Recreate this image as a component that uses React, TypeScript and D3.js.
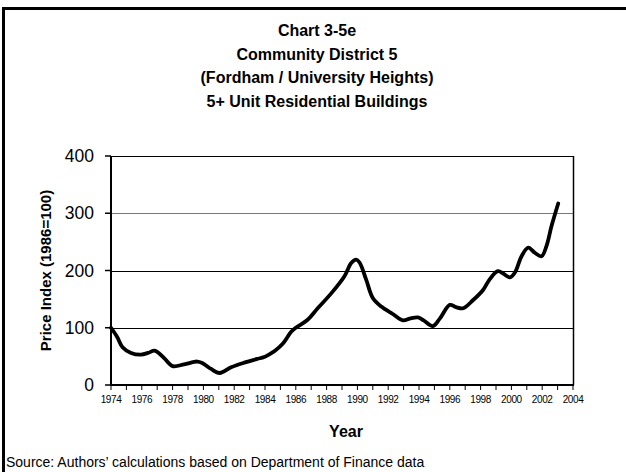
import React from "react";
import * as d3 from "d3";

const titleLines = [
  "Chart 3-5e",
  "Community District 5",
  "(Fordham / University Heights)",
  "5+ Unit Residential Buildings",
];

const years = [
  1974.0, 1974.4, 1974.75, 1975.3, 1975.95, 1976.4, 1976.8, 1977.0, 1977.45, 1978.0,
  1978.75, 1979.6, 1979.95, 1980.5, 1981.05, 1981.8, 1982.65, 1983.5, 1983.95, 1984.3,
  1984.65, 1985.15, 1985.7, 1986.0, 1986.77, 1987.42, 1988.3, 1989.16, 1989.6, 1989.92,
  1990.14, 1990.57, 1991.0, 1991.55, 1992.3, 1992.96, 1993.4, 1993.93, 1994.3, 1994.9,
  1995.35, 1996.0, 1996.4, 1996.86, 1997.5, 1998.16, 1998.6, 1999.13, 1999.9, 2000.22,
  2000.66, 2001.09, 2001.52, 2001.96, 2002.28, 2002.61, 2003.04,
];

const values = [
  100, 84, 66, 56, 53, 56, 60, 58, 47, 33,
  36, 41, 38, 28, 21, 31, 39, 45.5, 49, 54,
  60, 72, 93, 100, 114, 134, 160, 190, 213, 219,
  214, 184, 152, 137, 124, 113, 116, 118, 113, 103,
  116, 140, 136, 134, 148, 166, 185, 199, 188, 196,
  225, 240, 231, 225, 243, 278, 317,
];

const yTicks = [0, 100, 200, 300, 400];
const xLabelYears = [1974, 1976, 1978, 1980, 1982, 1984, 1986, 1988, 1990, 1992, 1994, 1996, 1998, 2000, 2002, 2004];
const xMinorYears = d3.range(1974, 2005);

const yLabel = "Price Index (1986=100)";
const xLabel = "Year";
const source = "Source: Authors\u2019 calculations based on Department of Finance data";

export default function App() {
  const W = 626;
  const H = 472;
  const left = 111;
  const right = 573;
  const top = 156;
  const bottom = 385;

  const x = d3.scaleLinear().domain([1974, 2004]).range([left, right]);
  const y = d3.scaleLinear().domain([0, 400]).range([bottom, top]);

  const pts: [number, number][] = years.map((yr, i) => [yr, values[i]]);
  const line = d3
    .line<[number, number]>()
    .x((d) => x(d[0]))
    .y((d) => y(d[1]))
    .curve(d3.curveCatmullRom.alpha(0.5));

  const font = "Arial, 'Liberation Sans', sans-serif";

  return (
    <svg
      width={W}
      height={H}
      style={{ position: "absolute", left: 0, top: 0, background: "#fff" }}
      fontFamily={font}
    >
      <rect x={0} y={0} width={W} height={H} fill="#fff" />
      {/* outer frame */}
      <line x1={3.5} y1={8.5} x2={W} y2={8.5} stroke="#000" strokeWidth={3} />
      <line x1={3.5} y1={7} x2={3.5} y2={H} stroke="#000" strokeWidth={3} />

      {/* title */}
      {titleLines.map((t, i) => (
        <text
          key={t}
          x={317}
          y={36 + i * 23.5}
          textAnchor="middle"
          fontSize={16}
          fontWeight="bold"
        >
          {t}
        </text>
      ))}

      {/* gridlines */}
      {yTicks
        .filter((v) => v > 0 && v < 400)
        .map((v) => (
          <line
            key={v}
            x1={left}
            x2={right}
            y1={Math.round(y(v)) + 0.5}
            y2={Math.round(y(v)) + 0.5}
            stroke={v === 300 ? "#777" : "#000"}
            strokeWidth={1}
          />
        ))}

      {/* plot frame top & right */}
      <line x1={left} x2={right} y1={top + 0.5} y2={top + 0.5} stroke="#000" strokeWidth={1} />
      <line x1={right + 0.5} x2={right + 0.5} y1={top} y2={bottom} stroke="#000" strokeWidth={1.5} />

      {/* y axis */}
      <line x1={left} x2={left} y1={top} y2={bottom + 1} stroke="#000" strokeWidth={2} />
      {yTicks.map((v) => (
        <g key={v}>
          <line x1={left - 6} x2={left} y1={y(v)} y2={y(v)} stroke="#000" strokeWidth={1.5} />
          <text x={94} y={y(v) + 6} textAnchor="end" fontSize={17.5}>
            {v}
          </text>
        </g>
      ))}

      {/* x axis */}
      <line x1={left} x2={right + 1} y1={bottom} y2={bottom} stroke="#000" strokeWidth={2} />
      {xMinorYears.map((yr) => (
        <line
          key={yr}
          x1={x(yr)}
          x2={x(yr)}
          y1={bottom}
          y2={bottom + 5}
          stroke="#000"
          strokeWidth={1}
        />
      ))}
      {xLabelYears.map((yr) => (
        <text
          key={yr}
          x={x(yr)}
          y={bottom + 18}
          textAnchor="middle"
          fontSize={10}
          letterSpacing={-0.4}
        >
          {yr}
        </text>
      ))}

      {/* data line */}
      <path d={line(pts) || ""} fill="none" stroke="#000" strokeWidth={3.8} strokeLinejoin="round" strokeLinecap="round" />

      {/* axis titles */}
      <text
        transform={`translate(51, ${(top + bottom) / 2}) rotate(-90)`}
        textAnchor="middle"
        fontSize={15}
        fontWeight="bold"
      >
        {yLabel}
      </text>
      <text x={346} y={437} textAnchor="middle" fontSize={16} fontWeight="bold">
        {xLabel}
      </text>

      <text x={6} y={467} fontSize={14}>
        {source}
      </text>
    </svg>
  );
}
